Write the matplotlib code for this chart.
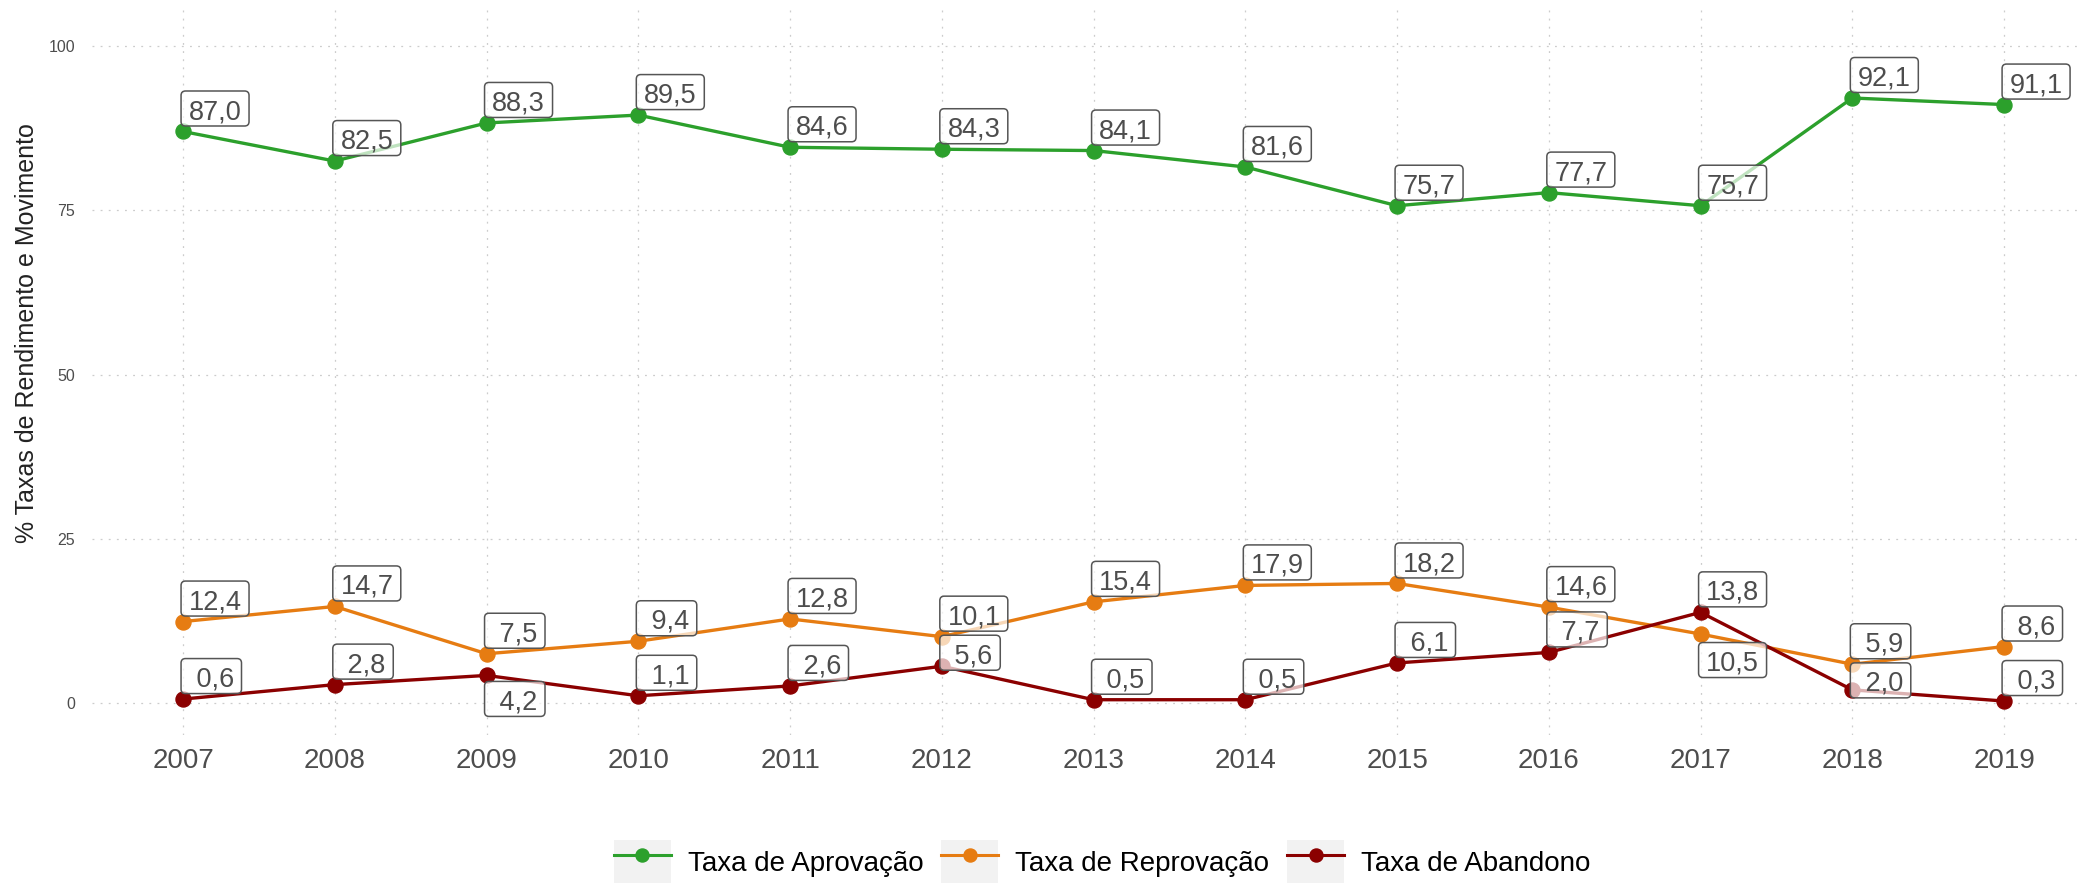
import matplotlib
matplotlib.use("Agg")
import matplotlib.pyplot as plt
import matplotlib.transforms as mtransforms
from matplotlib.patches import FancyBboxPatch, Rectangle
from matplotlib.lines import Line2D
from matplotlib.legend_handler import HandlerLine2D
from matplotlib.font_manager import FontProperties
from matplotlib.textpath import text_to_path

plt.rcParams['font.family'] = ['Liberation Sans', 'DejaVu Sans']

anos = [2007, 2008, 2009, 2010, 2011, 2012, 2013, 2014, 2015, 2016, 2017, 2018, 2019]
aprovacao = [87.0, 82.5, 88.3, 89.5, 84.6, 84.3, 84.1, 81.6, 75.7, 77.7, 75.7, 92.1, 91.1]
reprovacao = [12.4, 14.7, 7.5, 9.4, 12.8, 10.1, 15.4, 17.9, 18.2, 14.6, 10.5, 5.9, 8.6]
abandono = [0.6, 2.8, 4.2, 1.1, 2.6, 5.6, 0.5, 0.5, 6.1, 7.7, 13.8, 2.0, 0.3]

nomes = ["Taxa de Aprovação", "Taxa de Reprovação", "Taxa de Abandono"]
cores = ["#2ca02c", "#e67c12", "#8b0000"]
y_ticks = [0, 25, 50, 75, 100]

# rotulos que saem do lugar padrao (acima/direita): base da caixa em pixels
deslocamento = {
    (2, 2009): -41,
    (1, 2017): -43.5,
    (2, 2018): -8,
    (2, 2012): -4,
}

W, H = 2083, 883
fig = plt.figure(figsize=(W / 100, H / 100), dpi=100)
ax = fig.add_axes([92 / W, (H - 735) / H, (W - 92) / W, (735 - 8) / H])
ax.set_xlim(2006.4, 2019.52)
ax.set_ylim(-4.87, 105.8)

for s in ax.spines.values():
    s.set_visible(False)
ax.set_xticks(anos)
ax.set_yticks(y_ticks)
ax.tick_params(axis='x', length=0, pad=9.4, labelsize=20, labelcolor='#4d4d4d')
ax.tick_params(axis='y', length=0, pad=12.2, labelsize=11.5, labelcolor='#4d4d4d')
ax.grid(True, color='#cccccc', linewidth=0.9, linestyle=(0, (1.5, 5)))
ax.set_axisbelow(True)

fig.text(27 / W, (H - 333) / H, "% Taxas de Rendimento e Movimento",
         rotation=90, ha='center', va='center', fontsize=18, color='#222222')

series = [aprovacao, reprovacao, abandono]
for vals, cor in zip(series, cores):
    ax.plot(anos, vals, color=cor, linewidth=2.4, marker='o', markersize=10.8,
            zorder=3, solid_capstyle='round')

# caixas dos rotulos
fp = FontProperties(family='Liberation Sans', size=19.5)
PAD_X = 5.5
BOX_H = 25.2
BASE = 5.0
px = fig.dpi / 72.0


def largura(s):
    w1, _, _ = text_to_path.get_text_width_height_descent('|' + s + '|', fp, ismath=False)
    w0, _, _ = text_to_path.get_text_width_height_descent('||', fp, ismath=False)
    return w1 - w0


for i, vals in enumerate(series):
    for ano, v in zip(anos, vals):
        s = f"{v:4.1f}".replace('.', ',')
        dy = deslocamento.get((i, ano), 5.5) / px
        x0 = -2 / px
        trans = mtransforms.Affine2D().scale(px) + mtransforms.ScaledTranslation(ano, v, ax.transData)
        caixa = FancyBboxPatch((x0, dy), largura(s) + 2 * PAD_X, BOX_H,
                               boxstyle="round,pad=0,rounding_size=3.2",
                               transform=trans, facecolor=(1, 1, 1, 0.7),
                               edgecolor='#555555', linewidth=1.1, zorder=5)
        ax.add_artist(caixa)
        ax.text(x0 + PAD_X, dy + BASE, s, transform=trans, fontproperties=fp,
                ha='left', va='baseline', color='#4d4d4d', zorder=6)


class ChaveComFundo(HandlerLine2D):
    def create_artists(self, legend, orig_handle, xdescent, ydescent, width, height, fontsize, trans):
        fundo = Rectangle((-xdescent, -ydescent), width, height, facecolor='#f2f2f2',
                          edgecolor='none', transform=trans)
        arts = super().create_artists(legend, orig_handle, xdescent, ydescent,
                                      width, height, fontsize, trans)
        return [fundo] + list(arts)


handles = [Line2D([], [], color=c, linewidth=2.2, marker='o', markersize=9.4) for c in cores]
fig.legend(handles, nomes, loc='center', bbox_to_anchor=(1102 / W, (H - 862) / H),
           ncol=3, frameon=False, fontsize=20, handlelength=2.05, handleheight=2.05,
           handletextpad=0.61, columnspacing=0.65, borderpad=0, borderaxespad=0,
           handler_map={Line2D: ChaveComFundo(numpoints=1)})

fig.savefig("out.png", dpi=100)
